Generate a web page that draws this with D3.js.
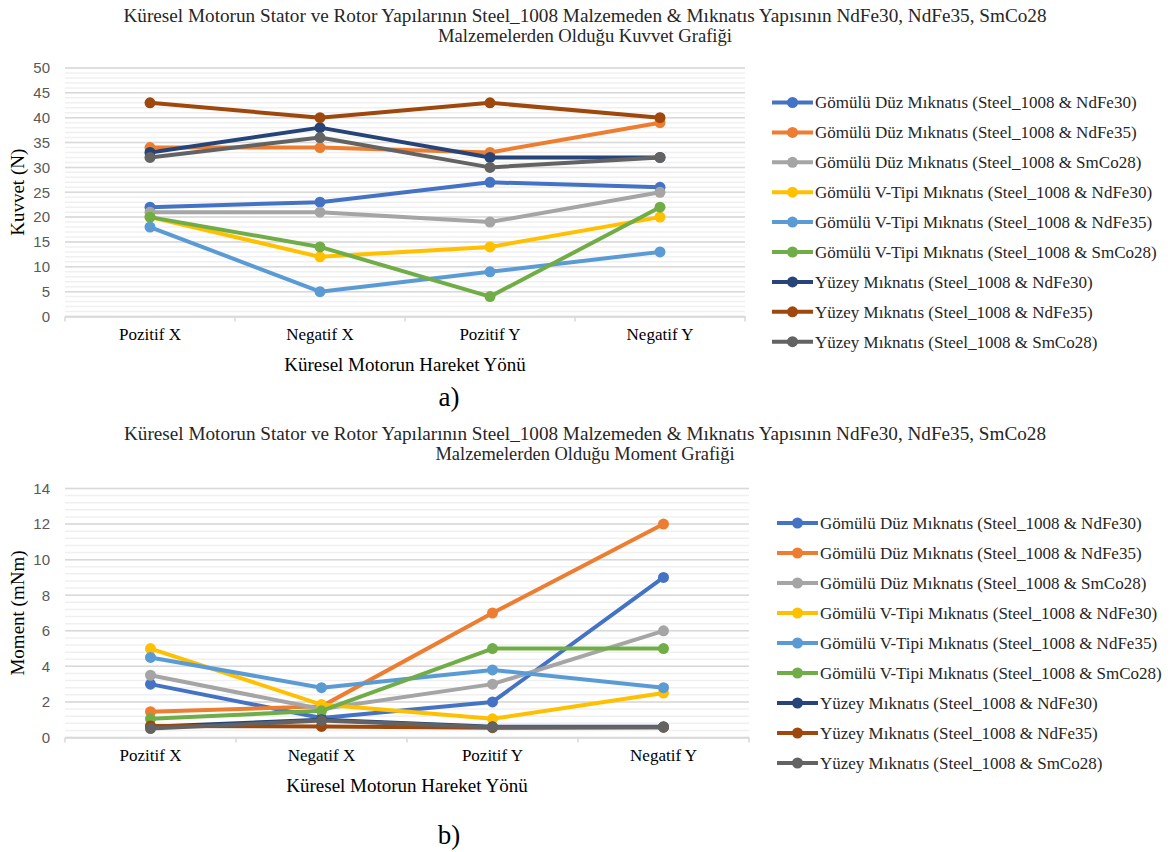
<!DOCTYPE html>
<html><head><meta charset="utf-8">
<script src="https://cdn.jsdelivr.net/npm/d3@7"></script>
<style>body{margin:0;background:#fff;}svg{display:block;}</style>
</head><body>
<svg id="c" width="1171" height="852"></svg>
<script>
const categories = ["Pozitif X", "Negatif X", "Pozitif Y", "Negatif Y"];
const seriesNames = [
  "Gömülü Düz Mıknatıs (Steel_1008 & NdFe30)",
  "Gömülü Düz Mıknatıs (Steel_1008 & NdFe35)",
  "Gömülü Düz Mıknatıs (Steel_1008 & SmCo28)",
  "Gömülü V-Tipi Mıknatıs (Steel_1008 & NdFe30)",
  "Gömülü V-Tipi Mıknatıs (Steel_1008 & NdFe35)",
  "Gömülü V-Tipi Mıknatıs (Steel_1008 & SmCo28)",
  "Yüzey Mıknatıs (Steel_1008 & NdFe30)",
  "Yüzey Mıknatıs (Steel_1008 & NdFe35)",
  "Yüzey Mıknatıs (Steel_1008 & SmCo28)"
];
const colors = ["#4472C4","#ED7D31","#A5A5A5","#FFC000","#5B9BD5","#70AD47","#264478","#9E480E","#636363"];

// Kuvvet (N)
const forceDuzNdFe30   = [22, 23, 27, 26];
const forceDuzNdFe35   = [34, 34, 33, 39];
const forceDuzSmCo28   = [21, 21, 19, 25];
const forceVNdFe30     = [20, 12, 14, 20];
const forceVNdFe35     = [18, 5, 9, 13];
const forceVSmCo28     = [20, 14, 4, 22];
const forceYuzNdFe30   = [33, 38, 32, 32];
const forceYuzNdFe35   = [43, 40, 43, 40];
const forceYuzSmCo28   = [32, 36, 30, 32];
const forceTicks = [0, 5, 10, 15, 20, 25, 30, 35, 40, 45, 50];

// Moment (mNm)
const momDuzNdFe30   = [3, 1.1, 2, 9];
const momDuzNdFe35   = [1.45, 1.75, 7, 12];
const momDuzSmCo28   = [3.5, 1.6, 3, 6];
const momVNdFe30     = [5, 1.85, 1.05, 2.5];
const momVNdFe35     = [4.5, 2.8, 3.8, 2.8];
const momVSmCo28     = [1.05, 1.5, 5, 5];
const momYuzNdFe30   = [0.6, 1.0, 0.6, 0.6];
const momYuzNdFe35   = [0.65, 0.62, 0.55, 0.58];
const momYuzSmCo28   = [0.5, 0.95, 0.58, 0.58];
const momentTicks = [0, 2, 4, 6, 8, 10, 12, 14];

const forceData = [forceDuzNdFe30, forceDuzNdFe35, forceDuzSmCo28, forceVNdFe30, forceVNdFe35, forceVSmCo28, forceYuzNdFe30, forceYuzNdFe35, forceYuzSmCo28];
const momentData = [momDuzNdFe30, momDuzNdFe35, momDuzSmCo28, momVNdFe30, momVNdFe35, momVSmCo28, momYuzNdFe30, momYuzNdFe35, momYuzSmCo28];

const svg = d3.select("#c");
const serif = "'Liberation Serif','Times New Roman',serif";
const sans = "'Liberation Sans',Arial,sans-serif";

function drawChart(cfg) {
  const g = svg.append("g");
  // titles
  cfg.title.forEach((t, i) => {
    g.append("text").attr("x", 585).attr("y", cfg.titleY + i * 20)
      .attr("text-anchor", "middle").attr("font-family", serif).attr("font-size", 18)
      .attr("fill", "#262626").attr("textLength", cfg.titleLen[i]).attr("lengthAdjust", "spacingAndGlyphs")
      .text(t);
  });
  const x = d3.scaleBand().domain(categories).range([cfg.left, cfg.right]);
  const y = d3.scaleLinear().domain([0, cfg.max]).range([cfg.bottom, cfg.top]);
  // minor grid
  const minor = d3.range(0, cfg.max + 1e-9, cfg.minor);
  g.append("g").selectAll("line").data(minor).join("line")
    .attr("x1", cfg.left).attr("x2", cfg.right)
    .attr("y1", d => y(d)).attr("y2", d => y(d))
    .attr("stroke", "#f0f0f0").attr("stroke-width", 1.5);
  // major grid
  g.append("g").selectAll("line").data(cfg.ticks).join("line")
    .attr("x1", cfg.left).attr("x2", cfg.right)
    .attr("y1", d => y(d)).attr("y2", d => y(d))
    .attr("stroke", "#d9d9d9").attr("stroke-width", 1.5);
  // y axis labels
  const ya = g.append("g").attr("transform", `translate(${cfg.left},0)`)
    .call(d3.axisLeft(y).tickValues(cfg.ticks).tickSize(0).tickPadding(15).tickFormat(d3.format("d")));
  ya.select(".domain").remove();
  ya.selectAll("text").attr("font-family", sans).attr("font-size", 15).attr("fill", "#595959");
  // x axis
  const xa = g.append("g").attr("transform", `translate(0,${cfg.bottom})`)
    .call(d3.axisBottom(x).tickSize(0).tickPadding(11));
  xa.select(".domain").attr("stroke", "#d9d9d9").attr("stroke-width", 1.5);
  xa.selectAll("text").attr("font-family", serif).attr("font-size", 17).attr("fill", "#000");
  const bounds = d3.range(categories.length + 1).map(i => cfg.left + i * x.step());
  g.append("g").selectAll("line").data(bounds).join("line")
    .attr("x1", d => d).attr("x2", d => d).attr("y1", cfg.bottom).attr("y2", cfg.bottom + 5)
    .attr("stroke", "#d9d9d9").attr("stroke-width", 1.5);
  // axis titles
  g.append("text").attr("transform", `translate(24,${(cfg.top + cfg.bottom) / 2}) rotate(-90)`)
    .attr("text-anchor", "middle").attr("font-family", serif).attr("font-size", 19).attr("fill", "#000")
    .text(cfg.yTitle);
  g.append("text").attr("x", (cfg.left + cfg.right) / 2).attr("y", cfg.bottom + 54)
    .attr("text-anchor", "middle").attr("font-family", serif).attr("font-size", 19).attr("fill", "#000")
    .text("Küresel Motorun Hareket Yönü");
  // lines
  const line = d3.line().x((d, i) => x(categories[i]) + x.bandwidth() / 2).y(d => y(d));
  cfg.data.forEach((vals, s) => {
    const sg = g.append("g");
    sg.append("path").attr("d", line(vals)).attr("fill", "none")
      .attr("stroke", colors[s]).attr("stroke-width", 4).attr("stroke-linejoin", "round");
    sg.selectAll("circle").data(vals).join("circle")
      .attr("cx", (d, i) => x(categories[i]) + x.bandwidth() / 2).attr("cy", d => y(d))
      .attr("r", 5.5).attr("fill", colors[s]);
  });
  // legend
  const lg = g.append("g");
  seriesNames.forEach((n, i) => {
    const yy = cfg.legY + i * cfg.legStep;
    lg.append("line").attr("x1", cfg.legX).attr("x2", cfg.legX + 41).attr("y1", yy).attr("y2", yy)
      .attr("stroke", colors[i]).attr("stroke-width", 4);
    lg.append("circle").attr("cx", cfg.legX + 20.5).attr("cy", yy).attr("r", 5.5).attr("fill", colors[i]);
    lg.append("text").attr("x", cfg.legX + 43).attr("y", yy).attr("dy", "0.35em")
      .attr("font-family", serif).attr("font-size", 17).attr("fill", "#262626").text(n);
  });
  // label
  svg.append("text").attr("x", cfg.labelX).attr("y", cfg.labelY).attr("text-anchor", "middle")
    .attr("font-family", serif).attr("font-size", 27).attr("fill", "#000").text(cfg.label);
}

drawChart({
  title: ["Küresel Motorun Stator ve Rotor Yapılarının Steel_1008 Malzemeden & Mıknatıs Yapısının NdFe30, NdFe35, SmCo28",
          "Malzemelerden Olduğu Kuvvet Grafiği"],
  titleLen: [923, 294], titleY: 22,
  left: 65, right: 745, top: 68, bottom: 316.5, max: 50, minor: 1, ticks: forceTicks,
  data: forceData, yTitle: "Kuvvet (N)",
  legX: 772, legY: 102.5, legStep: 29.9, label: "a)", labelX: 449, labelY: 406
});
drawChart({
  title: ["Küresel Motorun Stator ve Rotor Yapılarının Steel_1008 Malzemeden & Mıknatıs Yapısının NdFe30, NdFe35, SmCo28",
          "Malzemelerden Olduğu Moment Grafiği"],
  titleLen: [922, 299], titleY: 440,
  left: 65, right: 749, top: 488.5, bottom: 737.5, max: 14, minor: 0.4, ticks: momentTicks,
  data: momentData, yTitle: "Moment (mNm)",
  legX: 777, legY: 523, legStep: 30, label: "b)", labelX: 449, labelY: 844
});
</script>
</body></html>
